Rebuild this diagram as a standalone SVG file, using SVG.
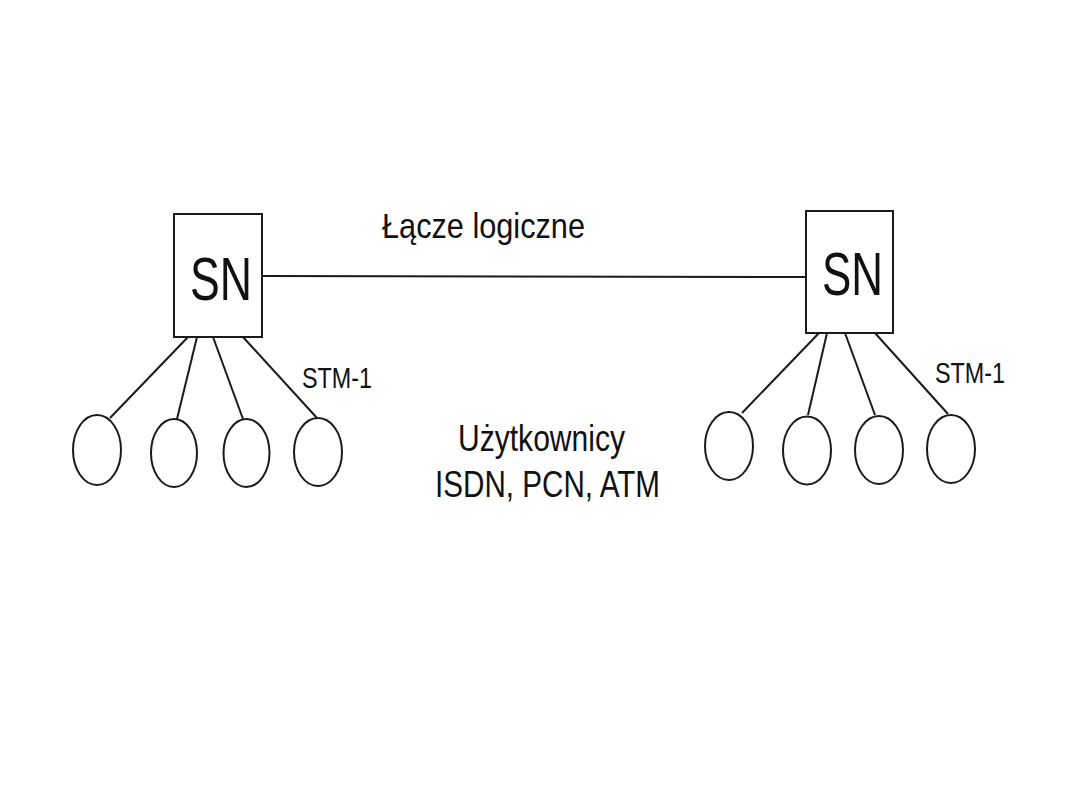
<svg xmlns="http://www.w3.org/2000/svg" width="1080" height="810" viewBox="0 0 1080 810">
<style>
.box{fill:#fff;stroke:#1a1a1a;stroke-width:2}
.usr{fill:#fff;stroke:#1a1a1a;stroke-width:2}
.ln{stroke:#1a1a1a;stroke-width:2;fill:none}
.t{font-family:"Liberation Sans",Arial,sans-serif;fill:#111}
</style>
<rect width="1080" height="810" fill="#fff"/>
<g id="connectors">
<line class="ln" x1="262" y1="276" x2="806" y2="277"/>
<line class="ln" x1="188" y1="337" x2="110" y2="418"/>
<line class="ln" x1="197" y1="337" x2="177" y2="419"/>
<line class="ln" x1="213" y1="337" x2="243" y2="419"/>
<line class="ln" x1="243" y1="337" x2="317" y2="418"/>
<line class="ln" x1="819" y1="333" x2="742" y2="413"/>
<line class="ln" x1="827" y1="333" x2="808" y2="415"/>
<line class="ln" x1="845" y1="333" x2="875" y2="415"/>
<line class="ln" x1="875" y1="333" x2="948" y2="414"/>
</g>
<g id="sn-left">
<rect class="box" x="174" y="214" width="88" height="123"/>
<text class="t" x="190" y="300" font-size="62" textLength="62" lengthAdjust="spacingAndGlyphs">SN</text>
</g>
<g id="sn-right">
<rect class="box" x="806" y="211" width="87" height="122"/>
<text class="t" x="822" y="295" font-size="62" textLength="61" lengthAdjust="spacingAndGlyphs">SN</text>
</g>
<g id="users-left">
<ellipse class="usr" cx="97" cy="450" rx="24" ry="35"/>
<ellipse class="usr" cx="174" cy="453" rx="23" ry="34"/>
<ellipse class="usr" cx="246.5" cy="453" rx="23" ry="34"/>
<ellipse class="usr" cx="318" cy="452" rx="24" ry="34"/>
</g>
<g id="users-right">
<ellipse class="usr" cx="729" cy="446" rx="24" ry="34"/>
<ellipse class="usr" cx="807" cy="450.5" rx="24" ry="34"/>
<ellipse class="usr" cx="879" cy="450" rx="24" ry="34"/>
<ellipse class="usr" cx="951" cy="449" rx="24" ry="34"/>
</g>
<g id="labels">
<text class="t" x="382" y="238" font-size="35" textLength="203" lengthAdjust="spacingAndGlyphs">Łącze logiczne</text>
<text class="t" x="302" y="388" font-size="30" textLength="70" lengthAdjust="spacingAndGlyphs">STM-1</text>
<text class="t" x="935" y="383" font-size="30" textLength="70" lengthAdjust="spacingAndGlyphs">STM-1</text>
<text class="t" x="458" y="451" font-size="36" textLength="167" lengthAdjust="spacingAndGlyphs">Użytkownicy</text>
<text class="t" x="435" y="497" font-size="37" textLength="225" lengthAdjust="spacingAndGlyphs">ISDN, PCN, ATM</text>
</g>
</svg>
